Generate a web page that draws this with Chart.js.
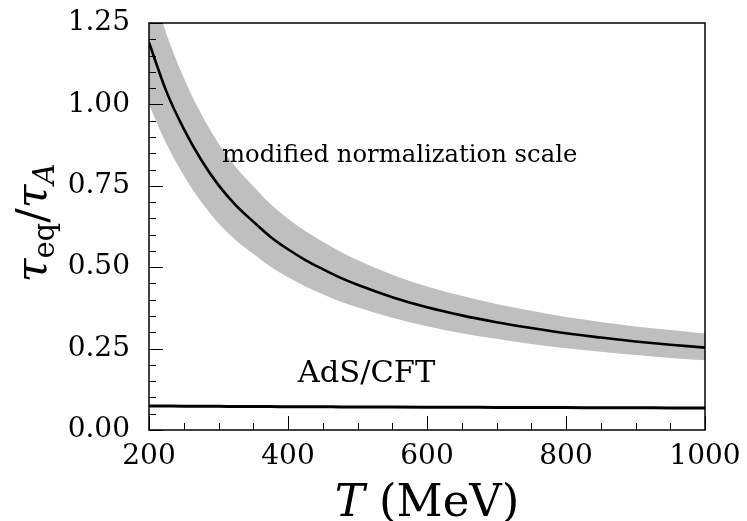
<!DOCTYPE html>
<html>
<head>
<meta charset="utf-8">
<script src="https://cdn.jsdelivr.net/npm/chart.js@4.4.1/dist/chart.umd.min.js"></script>
<style>
  html, body { margin: 0; padding: 0; background: #fff; }
  #wrap { width: 747px; height: 521px; }
</style>
</head>
<body>
<div id="wrap"><canvas id="chart" width="747" height="521"></canvas></div>
<script>
// temperature grid (MeV)
const temps = [200, 225, 250, 275, 300, 325, 350, 375, 400, 425, 450, 475, 500, 550, 600, 650, 700, 750, 800, 850, 900, 950, 1000];
// tau_eq / tau_A, modified normalization scale (central curve)
const tauModified = [1.19, 1.04, 0.925, 0.83, 0.752, 0.690, 0.64, 0.593, 0.555, 0.522, 0.494, 0.468, 0.446, 0.408, 0.377, 0.352, 0.331, 0.313, 0.297, 0.284, 0.272, 0.262, 0.253];
// uncertainty band
const bandUpper = [1.392, 1.217, 1.082, 0.971, 0.880, 0.807, 0.749, 0.694, 0.649, 0.611, 0.578, 0.548, 0.522, 0.477, 0.441, 0.412, 0.387, 0.366, 0.347, 0.332, 0.318, 0.307, 0.296];
const bandLower = [1.0, 0.879, 0.782, 0.701, 0.635, 0.583, 0.541, 0.501, 0.469, 0.441, 0.417, 0.395, 0.377, 0.345, 0.319, 0.297, 0.280, 0.264, 0.251, 0.240, 0.230, 0.221, 0.214];
// AdS/CFT result
const tauAdS = [0.074, 0.0736, 0.0732, 0.0729, 0.0726, 0.0723, 0.0720, 0.0718, 0.0716, 0.0714, 0.0712, 0.0710, 0.0708, 0.0704, 0.0700, 0.0697, 0.0694, 0.0691, 0.0688, 0.0685, 0.0682, 0.0679, 0.0676];

const xTicks = [200, 400, 600, 800, 1000];
const yTicks = [0, 0.25, 0.5, 0.75, 1.0, 1.25];
const xMinorStep = 50;
const yMinorStep = 0.05;

const SERIF = '"DejaVu Serif", serif';

const pts = arr => temps.map((t, i) => ({ x: t, y: arr[i] }));

// keep tick-label overhang from moving the plot area
const noOverhang = s => {
    s.paddingTop = 0; s.paddingBottom = 0; s.paddingLeft = 0; s.paddingRight = 0;
};

// inward ticks, frame, annotations and axis titles
const decorations = {
    id: 'decorations',
    afterDraw(chart) {
        const { ctx, chartArea: a, scales: { x, y } } = chart;
        ctx.save();
        ctx.strokeStyle = '#000';
        ctx.lineWidth = 1;
        ctx.beginPath();
        for (let v = x.min; v <= x.max + 1e-6; v += xMinorStep) {
            const px = Math.round(x.getPixelForValue(v)) + 0.5;
            const len = xTicks.includes(v) ? 14 : 7;
            ctx.moveTo(px, a.bottom);
            ctx.lineTo(px, a.bottom - len);
        }
        for (let k = 0; k * yMinorStep <= y.max + 1e-6; k++) {
            const v = k * yMinorStep;
            const py = Math.round(y.getPixelForValue(v)) + 0.5;
            const major = yTicks.some(t => Math.abs(t - v) < 1e-6);
            ctx.moveTo(a.left, py);
            ctx.lineTo(a.left + (major ? 14 : 7), py);
        }
        ctx.stroke();

        ctx.lineWidth = 1.5;
        ctx.strokeRect(a.left, a.top, a.right - a.left, a.bottom - a.top);

        // annotations
        ctx.fillStyle = '#000';
        ctx.textBaseline = 'alphabetic';
        ctx.textAlign = 'left';
        ctx.font = '24.3px ' + SERIF;
        ctx.fillText('modified normalization scale', x.getPixelForValue(305), y.getPixelForValue(0.823));
        ctx.font = '30.5px ' + SERIF;
        ctx.fillText('AdS/CFT', x.getPixelForValue(414), y.getPixelForValue(0.148));

        // x title: T (MeV)
        const fItal = 'italic 45px ' + SERIF;
        const fRom = '45px ' + SERIF;
        ctx.font = fItal;
        const wT = ctx.measureText('T').width;
        ctx.font = fRom;
        const wRest = ctx.measureText(' (MeV)').width;
        let sx = (a.left + a.right) / 2 - (wT + wRest) / 2;
        ctx.font = fItal;
        ctx.fillText('T', sx, 516);
        ctx.font = fRom;
        ctx.fillText(' (MeV)', sx + wT, 516);

        // y title: tau_eq / tau_A
        const parts = [
            { t: 'τ', f: 'italic 43px ' + SERIF, dy: 0 },
            { t: 'eq', f: '29px ' + SERIF, dy: 8 },
            { t: '/', f: '43px ' + SERIF, dy: 0 },
            { t: 'τ', f: 'italic 43px ' + SERIF, dy: 0 },
            { t: 'A', f: 'italic 29px ' + SERIF, dy: 8 },
        ];
        let total = 0;
        parts.forEach(p => { ctx.font = p.f; p.w = ctx.measureText(p.t).width; total += p.w; });
        ctx.translate(46, 223);
        ctx.rotate(-Math.PI / 2);
        let cx = -total / 2;
        parts.forEach(p => {
            ctx.font = p.f;
            ctx.fillText(p.t, cx, p.dy);
            cx += p.w;
        });
        ctx.restore();
    }
};

new Chart(document.getElementById('chart'), {
    type: 'line',
    data: {
        datasets: [
            { label: 'modified', data: pts(tauModified), borderColor: '#000', borderWidth: 2.6, pointRadius: 0, cubicInterpolationMode: 'monotone', fill: false },
            { label: 'upper', data: pts(bandUpper), borderWidth: 0, borderColor: 'rgba(0,0,0,0)', pointRadius: 0, cubicInterpolationMode: 'monotone', backgroundColor: '#bfbfbf', fill: '+1' },
            { label: 'lower', data: pts(bandLower), borderWidth: 0, borderColor: 'rgba(0,0,0,0)', pointRadius: 0, cubicInterpolationMode: 'monotone', fill: false },
            { label: 'AdS/CFT', data: pts(tauAdS), borderColor: '#000', borderWidth: 3, pointRadius: 0, cubicInterpolationMode: 'monotone', fill: false },
        ],
    },
    options: {
        responsive: false,
        animation: false,
        devicePixelRatio: 1,
        layout: { padding: { top: 23, right: 42, left: 0, bottom: 0 } },
        plugins: { legend: { display: false }, tooltip: { enabled: false } },
        scales: {
            x: {
                type: 'linear', min: 200, max: 1000,
                afterFit: s => { s.height = 91; noOverhang(s); },
                afterBuildTicks: s => { s.ticks = xTicks.map(v => ({ value: v })); },
                grid: { display: false, drawTicks: false },
                border: { display: false },
                ticks: { padding: 10, color: '#000', font: { family: 'DejaVu Serif', size: 28 }, maxRotation: 0, callback: v => String(v) },
            },
            y: {
                type: 'linear', min: 0, max: 1.25,
                afterFit: s => { s.width = 149; noOverhang(s); },
                afterBuildTicks: s => { s.ticks = yTicks.map(v => ({ value: v })); },
                grid: { display: false, drawTicks: false },
                border: { display: false },
                ticks: { padding: 19, color: '#000', font: { family: 'DejaVu Serif', size: 28 }, callback: v => v.toFixed(2) },
            },
        },
    },
    plugins: [decorations],
});
</script>
</body>
</html>
